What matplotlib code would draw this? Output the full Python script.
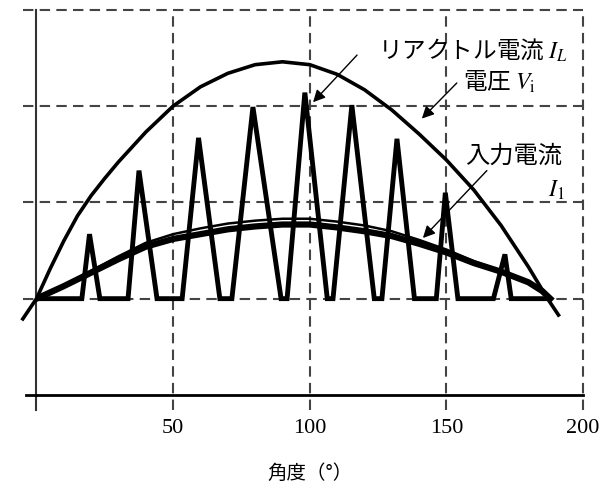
"""Boost converter waveforms: voltage, reactor current and input current."""
from matplotlib import pyplot as plt

plt.rcParams['font.family'] = ['Noto Sans CJK JP', 'DejaVu Sans']
plt.rcParams['mathtext.fontset'] = 'stix'

# voltage V_i
v_angle = [-5, 0, 5, 10, 15, 20, 25, 30, 40, 50, 60, 70, 80, 90, 100, 110,
           120, 130, 140, 150, 160, 170, 180, 187, 191]
v_value = [-0.21, 0.0, 0.31, 0.60, 0.86, 1.07, 1.25, 1.42, 1.73, 2.00, 2.20,
           2.34, 2.43, 2.46, 2.43, 2.33, 2.17, 1.96, 1.71, 1.44, 1.13, 0.76,
           0.33, 0.0, -0.17]

# reactor current I_L (triangles)
il_angle = [0, 16.6, 19.4, 23.2, 33.5, 37.5, 44.1, 53.3, 59.3, 67.1, 71.5,
            79.2, 89.5, 91.7, 98.2, 106.4, 108.5, 115.4, 123.6, 126.4, 131.9,
            138.3, 146.3, 149.6, 154.2, 167.2, 171.4, 173.7, 186.8]
il_value = [0, 0, 0.67, 0, 0, 1.33, 0, 0, 1.67, 0, 0,
            1.99, 0, 0, 2.14, 0, 0, 2.01, 0, 0, 1.66,
            0, 0, 1.10, 0, 0, 0.46, 0, 0]

# input current I_1 (thick) and its reference (thin)
i1_angle = [0, 10, 20, 30, 40, 50, 60, 70, 80, 90, 100, 110, 120, 130, 140,
            150, 160, 170, 180, 185, 188]
i1_value = [0, 0.13, 0.27, 0.41, 0.54, 0.62, 0.67, 0.72, 0.75, 0.77, 0.77,
            0.74, 0.70, 0.65, 0.57, 0.48, 0.37, 0.28, 0.17, 0.08, 0.0]
i1_ref = [0, 0.14, 0.29, 0.44, 0.58, 0.67, 0.73, 0.78, 0.81, 0.83, 0.83,
          0.80, 0.76, 0.70, 0.61, 0.51, 0.39, 0.29, 0.17, 0.08, 0.0]

x_grid = [50, 100, 150, 200]
y_grid = [0, 1, 2, 3]
x_ticks = [0, 50, 100, 150, 200]
x_labels = ['', '50', '100', '150', '200']

fig = plt.figure(figsize=(6.08, 4.90), dpi=100)
ax = fig.add_axes([0.060, 0.194, 0.899, 0.786])
ax.set_xlim(0, 200)
ax.set_ylim(-1, 3)

grid_style = dict(color='#444444', lw=1.5, ls=(0, (5, 3)), clip_on=False, zorder=1)
for gx in x_grid:
    ax.plot([gx, gx], [-1.16, 3], **grid_style)
for gy in y_grid:
    ax.plot([-5, 200], [gy, gy], **grid_style)

for side in ['top', 'right']:
    ax.spines[side].set_visible(False)
ax.spines['left'].set_linewidth(1.5)
ax.spines['left'].set_color('#333333')
ax.spines['bottom'].set_linewidth(2)
ax.plot([0, 0], [-1.16, -1], color='#333333', lw=1.5, clip_on=False)
ax.plot([-4, 0], [-1, -1], color='black', lw=2, clip_on=False)

ax.set_yticks([])
ax.set_xticks(x_ticks)
ax.set_xticklabels(x_labels, family='Liberation Serif', fontsize=16)
ax.tick_params(axis='x', length=0, pad=17)
ax.set_xlabel('角度（°）', fontsize=14, labelpad=18)

ax.plot(v_angle, v_value, color='black', lw=2.6, clip_on=False, zorder=3)
ax.plot(il_angle, il_value, color='black', lw=3.5, solid_joinstyle='miter', zorder=3)
ax.plot(i1_angle, i1_value, color='black', lw=4.5, zorder=4)
ax.plot(i1_angle, i1_ref, color='black', lw=1.8, zorder=4)

arrow = dict(arrowstyle='-|>', color='black', lw=1.0, mutation_scale=18,
             shrinkA=0, shrinkB=0)
ax.annotate('', xy=(101.2, 2.04), xytext=(117.3, 2.53), arrowprops=arrow)
ax.annotate('', xy=(141.0, 1.87), xytext=(153.8, 2.24), arrowprops=arrow)
ax.annotate('', xy=(141.4, 0.63), xytext=(164.8, 1.33), arrowprops=arrow)

ax.text(194.2, 2.58, 'リアクトル電流 $I_L$', ha='right', va='center', fontsize=17)
ax.text(156.0, 2.25, '電圧 $V_\\mathrm{i}$', ha='left', va='center', fontsize=17)
ax.text(156.7, 1.48, '入力電流', ha='left', va='center', fontsize=17.5)
ax.text(193.4, 1.12, '$I_1$', ha='right', va='center', fontsize=17)

plt.savefig('out.png', dpi=100)
plt.close()
